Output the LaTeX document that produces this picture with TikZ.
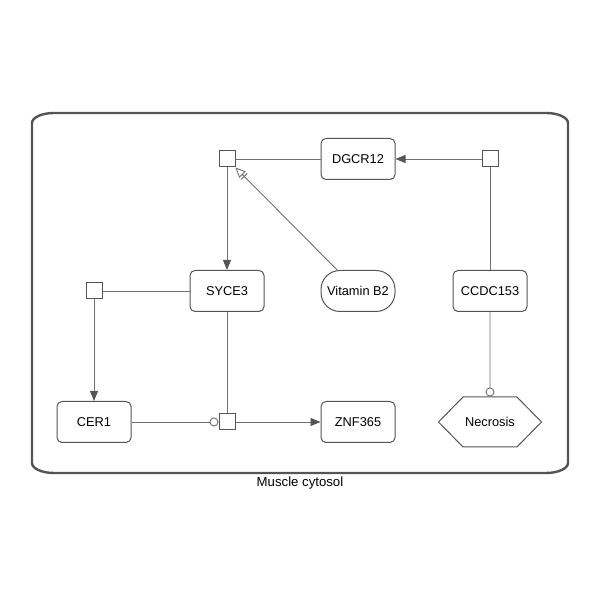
\documentclass[tikz,border=0pt]{standalone}
\usepackage{fontspec}
\setmainfont{Liberation Sans}
\usetikzlibrary{arrows.meta,shapes.symbols}
\definecolor{edgegray}{HTML}{707070}
\definecolor{boxgray}{HTML}{555555}

\begin{document}
\begin{tikzpicture}[x=1pt,y=1pt,
    font=\fontsize{12.8}{15}\selectfont,
    gene/.style={draw=boxgray, line width=1pt, fill=white, rounded corners=5pt, minimum width=74pt, minimum height=41pt, inner sep=2pt},
    chem/.style={draw=boxgray, line width=1pt, fill=white, rounded corners=19pt, minimum width=74pt, minimum height=41pt, inner sep=2pt},
    pheno/.style={draw=boxgray, line width=1pt, fill=white, shape=signal, signal to=west and east, signal pointer angle=91, minimum width=103pt, minimum height=50pt, inner sep=2pt},
    procsq/.style={draw=boxgray, line width=1pt, fill=white, minimum size=16pt, inner sep=0pt},
    link/.style={draw=edgegray, line width=0.9pt},
    stim/.style={-{Triangle[length=10pt,width=8pt,fill=boxgray,color=boxgray]}},
    needstim/.style={-{Bar[width=9pt,sep=2pt] Triangle[open,length=10pt,width=9pt]}},
    catal/.style={-{Circle[open,length=9pt,fill=white]}},
    comp/.style={draw=boxgray, line width=2.4pt}]
  \useasboundingbox (0,0) rectangle (600,600);
  % compartment
  \draw[comp] (32,477) -- (32,137) arc[start angle=180,end angle=270,x radius=22,y radius=10]
    -- (546,127) arc[start angle=270,end angle=360,x radius=22,y radius=10]
    -- (568,477) arc[start angle=0,end angle=90,x radius=22,y radius=10]
    -- (54,487) arc[start angle=90,end angle=180,x radius=22,y radius=10] -- cycle;
  \node (cytosol) at (300,117) {\fontsize{13.2}{15}\selectfont Muscle cytosol};
  % nodes
  \node[procsq] (sqA) at (227,441) {};
  \node[gene] (dgcr) at (358,441) {DGCR12};
  \node[procsq] (sqB) at (490,441) {};
  \node[procsq] (sqL) at (94,309) {};
  \node[gene] (syce) at (227,309) {SYCE3};
  \node[chem] (vitb) at (358,309) {Vitamin B2};
  \node[gene] (ccdc) at (490,309) {CCDC153};
  \node[gene] (cer) at (94,178) {CER1};
  \node[procsq] (sqC) at (227,178) {};
  \node[gene] (znf) at (358,178) {ZNF365};
  \node[pheno] (necr) at (490,178) {Necrosis};
  % edges
  \draw[link] (sqA) -- (dgcr);
  \draw[link,stim] (sqB) -- (dgcr);
  \draw[link] (sqB) -- (ccdc);
  \draw[link,stim] (sqA) -- (syce);
  \draw[link,needstim] (vitb) -- (sqA);
  \draw[link] (syce) -- (sqL);
  \draw[link,stim] (sqL) -- (cer);
  \draw[link] (syce) -- (sqC);
  \draw[link,catal] (cer) -- (sqC);
  \draw[link,stim] (sqC) -- (znf);
  \draw[link,catal] (ccdc) -- (necr);
\end{tikzpicture}
\end{document}
